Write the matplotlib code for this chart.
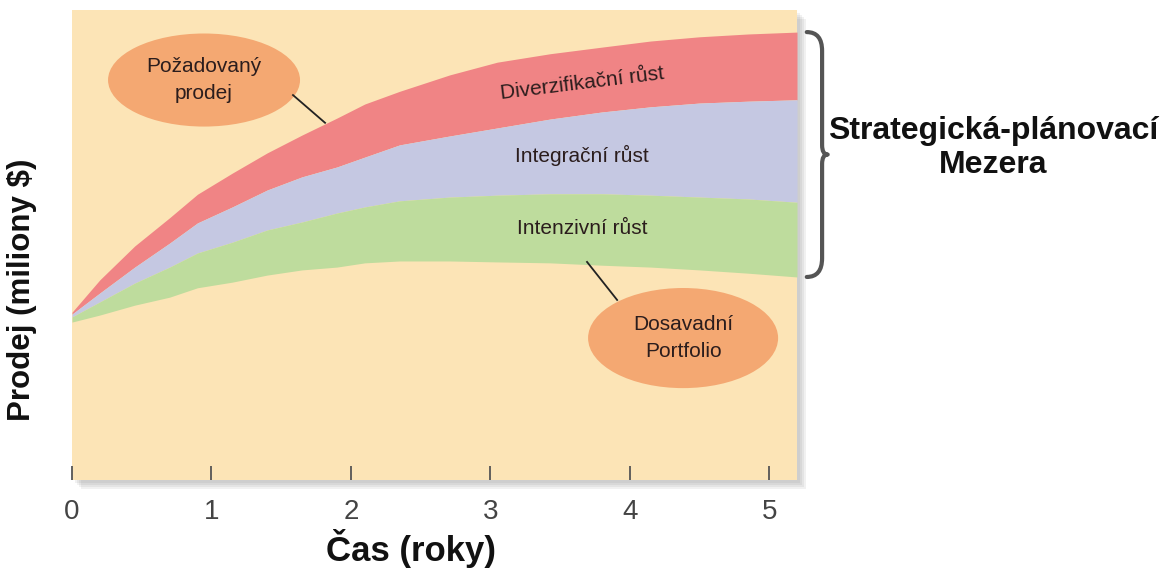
import matplotlib.pyplot as plt
from matplotlib.patches import Ellipse, Rectangle, PathPatch
from matplotlib.path import Path

# data (years, sales in arbitrary units 0-100)
years = [0, 0.2, 0.45, 0.7, 0.9, 1.15, 1.4, 1.65, 1.9, 2.1, 2.35, 2.71, 3.05, 3.43, 3.8, 4.15, 4.5, 4.85, 5.2]
desired_sales = [35.7, 42.6, 49.8, 55.8, 60.8, 65.3, 69.6, 73.4, 77.0, 80.0, 82.7, 86.2, 88.9, 90.7, 92.1, 93.4, 94.3, 94.9, 95.3]
integration_top = [35.3, 39.8, 45.3, 50.4, 54.7, 58.1, 61.7, 64.5, 66.6, 68.7, 71.3, 73.2, 74.9, 76.8, 78.3, 79.4, 80.2, 80.6, 80.9]
intensive_top = [34.7, 37.9, 41.9, 45.3, 48.3, 50.6, 53.2, 54.9, 56.8, 58.1, 59.4, 60.2, 60.6, 60.9, 60.9, 60.6, 60.2, 59.8, 59.1]
current_portfolio = [33.6, 35.1, 37.2, 38.9, 40.9, 42.1, 43.6, 44.7, 45.3, 46.2, 46.6, 46.6, 46.4, 46.2, 45.7, 45.3, 44.7, 44.0, 43.2]
tick_years = [0, 1, 2, 3, 4, 5]

sans = ['Liberation Sans', 'DejaVu Sans']
txt_col = '#2b1d1d'

fig = plt.figure(figsize=(11.63, 5.71), dpi=100)
fig.patch.set_facecolor('white')

ax_rect = [72 / 1163, 1 - 480 / 571, (797 - 72) / 1163, 470 / 571]

# soft drop shadow behind the panel
for i in range(4):
    off = 3 + 2 * i
    fig.patches.append(Rectangle((ax_rect[0] + off / 1163, ax_rect[1] - off / 571),
                                 ax_rect[2], ax_rect[3], transform=fig.transFigure,
                                 facecolor='#777777', alpha=0.10, lw=0, zorder=0))

ax = fig.add_axes(ax_rect)
ax.set_facecolor('#fce4b6')
ax.set_zorder(1)

# bands
ax.fill_between(years, integration_top, desired_sales, color='#f08485', lw=0)
ax.fill_between(years, intensive_top, integration_top, color='#c5c8e2', lw=0)
ax.fill_between(years, current_portfolio, intensive_top, color='#bedc9d', lw=0)

ax.set_xlim(0, 5.2)
ax.set_ylim(0, 100)
for s in ax.spines.values():
    s.set_visible(False)
ax.set_yticks([])
ax.set_xticks(tick_years)
ax.set_xticklabels([str(t) for t in tick_years])
ax.tick_params(axis='x', direction='in', length=10, width=1.3, color='#555555',
               pad=14, labelsize=20, labelcolor='#444444')
for lab in ax.get_xticklabels():
    lab.set_family(sans)

# band labels
ax.text(3.66, 84.3, 'Diverzifikační růst', rotation=7, ha='center', va='center',
        fontsize=15, family=sans, color=txt_col)
ax.text(3.66, 69.1, 'Integrační růst', ha='center', va='center',
        fontsize=15, family=sans, color=txt_col)
ax.text(3.66, 53.6, 'Intenzivní růst', ha='center', va='center',
        fontsize=15, family=sans, color=txt_col)

# callout ellipses
ax.add_patch(Ellipse((0.947, 85.1), 1.377, 19.8, facecolor='#f4a872', lw=0, zorder=3))
ax.text(0.947, 85.1, 'Požadovaný\nprodej', ha='center', va='center', fontsize=15,
        family=sans, color=txt_col, linespacing=1.5, zorder=4)
ax.plot([1.585, 1.815], [81.9, 76.0], color='#222222', lw=1.3, zorder=3)

ax.add_patch(Ellipse((4.383, 30.2), 1.363, 21.3, facecolor='#f4a872', lw=0, zorder=3))
ax.text(4.383, 30.2, 'Dosavadní\nPortfolio', ha='center', va='center', fontsize=15,
        family=sans, color=txt_col, linespacing=1.5, zorder=4)
ax.plot([3.694, 3.91], [46.4, 38.3], color='#222222', lw=1.3, zorder=3)

# curly brace spanning the gap at the right end
top = desired_sales[-1]
bot = current_portfolio[-1]
mid = (top + bot) / 2
x0 = years[-1] + 0.07
x1 = x0 + 0.11
xt = x1 + 0.04
r = 4.0
verts = [(x0, top), (x1, top), (x1, top - r),
         (x1, mid + 2), (x1, mid), (xt, mid),
         (x1, mid), (x1, mid - 2),
         (x1, bot + r), (x1, bot), (x0, bot)]
codes = [Path.MOVETO, Path.CURVE3, Path.CURVE3,
         Path.LINETO, Path.CURVE3, Path.CURVE3,
         Path.CURVE3, Path.CURVE3,
         Path.LINETO, Path.CURVE3, Path.CURVE3]
ax.add_patch(PathPatch(Path(verts, codes), facecolor='none', edgecolor='#555555',
                       lw=3, clip_on=False, capstyle='round', joinstyle='round'))

fig.text(0.854, 0.741, 'Strategická-plánovací\nMezera', ha='center', va='center',
         fontsize=23, fontweight='bold', family=sans, color='#111111', linespacing=1.15)

fig.text(0.353, 0.040, 'Čas (roky)', ha='center', va='center', fontsize=25,
         fontweight='bold', family=sans, color='#111111')
fig.text(0.019, 0.492, 'Prodej (miliony $)', ha='center', va='center', rotation=90,
         fontsize=22.5, fontweight='bold', family=sans, color='#111111')

fig.savefig('out.png', dpi=100, facecolor='white')
